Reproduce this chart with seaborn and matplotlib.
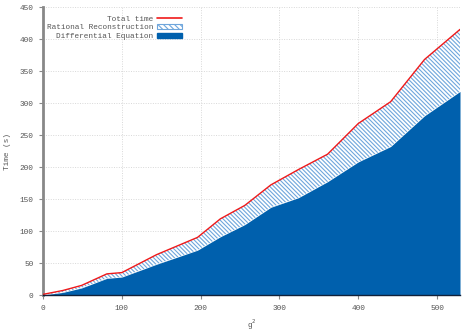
import pandas as pd
import seaborn as sns
import matplotlib.pyplot as plt
from matplotlib.patches import Patch
from matplotlib.lines import Line2D

# g^2 values and timings
g2 = [0, 25, 49, 81, 100, 144, 196, 225, 256, 289, 324, 361, 400, 441, 484, 529]
total_time = [1, 7, 15, 33, 35, 63, 90, 119, 140, 172, 196, 220, 268, 302, 368, 415]
diff_eq = [0, 4, 11, 26, 28, 48, 70, 91, 110, 137, 152, 177, 208, 232, 280, 318]

df = pd.DataFrame({'g2': g2, 'total': total_time, 'diffeq': diff_eq})

sns.set_style('white')
plt.rcParams['font.family'] = ['Liberation Mono', 'DejaVu Sans Mono']
plt.rcParams['hatch.color'] = '#6fa6dc'
plt.rcParams['hatch.linewidth'] = 0.8

fig = plt.figure(figsize=(4.75, 3.32), dpi=100)
ax = fig.add_axes([43 / 475, 1 - 295 / 332, (460 - 43) / 475, (295 - 7) / 332])

blue = '#0060ad'
red = '#f01a1a'
txt = '#555555'
hatch = '\\' * 8

# rational reconstruction band (hatched) between DE time and total time
ax.fill_between(df.g2, df.diffeq, df.total, facecolor='white',
                edgecolor='#6fa6dc', hatch=hatch, linewidth=0, zorder=2)
# differential equation time (solid)
ax.fill_between(df.g2, 0, df.diffeq, color=blue, linewidth=0, zorder=3)
sns.lineplot(data=df, x='g2', y='total', color=red, linewidth=1.0, ax=ax, zorder=4)

ax.set_xlim(0, 529)
ax.set_ylim(0, 450)
ax.set_xticks([0, 100, 200, 300, 400, 500])
ax.set_yticks(range(0, 451, 50))
ax.grid(True, color='#d8d8d8', linestyle=(0, (1, 1.5)), linewidth=0.7)
ax.set_axisbelow(True)

for s in ['top', 'right']:
    ax.spines[s].set_visible(False)
ax.spines['left'].set_color('#888888')
ax.spines['left'].set_linewidth(2)
ax.spines['bottom'].set_color('#10213a')
ax.spines['bottom'].set_linewidth(1)
ax.spines['bottom'].set_zorder(5)

ax.tick_params(axis='both', direction='out', length=3, width=0.8, color='#888888',
               labelsize=5.6, labelcolor=txt, pad=4, bottom=True, left=True)

ax.set_xlabel('g$^2$', fontsize=5.6, color=txt, labelpad=4)
ax.set_ylabel('Time (s)', fontsize=5.6, color=txt, labelpad=6)

handles = [
    Line2D([], [], color=red, linewidth=1.2),
    Patch(facecolor='white', edgecolor='#6fa6dc', hatch='\\' * 6, linewidth=0.8),
    Patch(facecolor=blue, edgecolor=blue),
]
labels = ['Total time', 'Rational Reconstruction', 'Differential Equation']
leg = fig.legend(handles, labels, loc='upper right', bbox_to_anchor=(186 / 475, 1 - 12 / 332),
                 frameon=False, markerfirst=False, fontsize=5.6, handlelength=3.2,
                 handleheight=0.6, handletextpad=0.5, labelspacing=0.15, borderpad=0)
for t in leg.get_texts():
    t.set_color(txt)

fig.savefig('out.png', dpi=100)
